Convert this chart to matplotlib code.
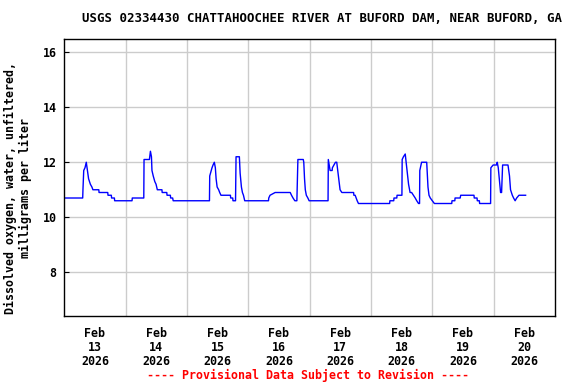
import matplotlib
matplotlib.use('Agg')
import matplotlib.pyplot as plt
from matplotlib.ticker import FixedLocator, NullFormatter

# hours since Feb 13 2026 00:00, dissolved oxygen (mg/L)
hours = [0.0, 7.2, 7.3, 7.6, 8.1, 8.6, 8.9, 9.5, 10.2, 10.8, 11.2, 13.5, 13.6, 17.0, 17.1,
         18.4, 18.5, 19.6, 19.7, 26.5, 26.6, 31.1, 31.2, 33.3, 33.7, 33.9, 34.1, 34.3, 34.8,
         35.4, 35.9, 36.4, 38.2, 38.3, 40.1, 40.2, 41.5, 41.6, 42.4, 42.6, 56.8, 56.9, 57.8,
         58.2, 58.7, 59.1, 59.4, 59.8, 60.4, 60.8, 61.3, 65.0, 65.1, 65.9, 66.0, 67.0, 67.2,
         68.5, 68.6, 68.8, 69.3, 69.7, 70.1, 70.6, 79.9, 80.0, 80.5, 82.5, 88.4, 88.9, 89.5,
         90.2, 91.0, 91.4, 93.5, 93.7, 94.0, 94.3, 94.7, 95.3, 95.8, 103.2, 103.3, 104.0,
         104.8, 104.9, 106.1, 106.6, 107.0, 107.5, 107.9, 108.6, 113.2, 113.3, 113.8, 114.2,
         114.6, 115.1, 127.3, 127.4, 128.9, 129.0, 130.1, 130.2, 132.1, 132.2, 132.7, 133.4,
         134.0, 134.7, 135.3, 135.9, 136.6, 137.3, 137.9, 138.6, 139.0, 139.1, 139.8, 141.8,
         142.1, 142.3, 142.7, 143.2, 144.0, 144.8, 151.6, 151.7, 152.8, 152.9, 154.9, 155.1,
         160.3, 160.4, 161.5, 161.6, 162.4, 162.5, 166.8, 166.9, 167.8, 169.1, 169.4, 169.8,
         170.3, 170.7, 171.1, 171.5, 173.6, 174.2, 174.6, 175.3, 175.8, 176.4, 177.0, 177.9,
         180.5]
oxygen = [10.7, 10.7, 11.0, 11.7, 11.8, 12.0, 11.8, 11.4, 11.2, 11.1, 11.0, 11.0, 10.9, 10.9, 10.8,
          10.8, 10.7, 10.7, 10.6, 10.6, 10.7, 10.7, 12.1, 12.1, 12.4, 12.3, 12.2, 11.7, 11.5,
          11.3, 11.2, 11.0, 11.0, 10.9, 10.9, 10.8, 10.8, 10.7, 10.7, 10.6, 10.6, 11.5, 11.8,
          11.9, 12.0, 11.8, 11.4, 11.1, 11.0, 10.9, 10.8, 10.8, 10.7, 10.7, 10.6, 10.6, 12.2,
          12.2, 12.0, 11.6, 11.1, 10.9, 10.8, 10.6, 10.6, 10.7, 10.8, 10.9, 10.9, 10.8, 10.7,
          10.6, 10.6, 12.1, 12.1, 12.0, 11.4, 11.0, 10.8, 10.7, 10.6, 10.6, 12.1, 11.7,
          11.7, 11.8, 12.0, 12.0, 11.7, 11.3, 11.0, 10.9, 10.9, 10.8, 10.8, 10.7,
          10.6, 10.5, 10.5, 10.6, 10.6, 10.7, 10.7, 10.8, 10.8, 12.1, 12.2, 12.3,
          11.8, 11.2, 10.9, 10.9, 10.8, 10.7, 10.6, 10.5, 10.5, 11.7, 12.0, 12.0,
          11.5, 11.1, 10.8, 10.7, 10.6, 10.5, 10.5, 10.6, 10.6, 10.7, 10.7, 10.8,
          10.8, 10.7, 10.7, 10.6, 10.6, 10.5, 10.5, 11.8, 11.9, 11.9, 12.0, 11.8,
          11.3, 10.9, 10.9, 11.9, 11.9, 11.5, 11.0, 10.8, 10.7, 10.6, 10.7, 10.8,
          10.8]

day_labels = ['Feb\n13\n2026', 'Feb\n14\n2026', 'Feb\n15\n2026', 'Feb\n16\n2026',
              'Feb\n17\n2026', 'Feb\n18\n2026', 'Feb\n19\n2026', 'Feb\n20\n2026']
y_ticks = [8, 10, 12, 14, 16]

title = 'USGS 02334430 CHATTAHOOCHEE RIVER AT BUFORD DAM, NEAR BUFORD, GA'
ylab = 'Dissolved oxygen, water, unfiltered,\nmilligrams per liter'
footer = '---- Provisional Data Subject to Revision ----'

plt.rcParams['font.family'] = 'DejaVu Sans Mono'
plt.rcParams['font.weight'] = 'bold'

fig = plt.figure(figsize=(5.76, 3.84), dpi=100)
ax = fig.add_axes([64.3/576, 1-316/384, (555-64.3)/576, (316-39.3)/384])

ax.plot(hours, oxygen, color='#0000ff', lw=1.0)

ax.set_xlim(0, 192)
ax.set_ylim(6.41, 16.47)

ax.xaxis.set_major_locator(FixedLocator([24*i for i in range(1, 8)]))
ax.xaxis.set_major_formatter(NullFormatter())
ax.xaxis.set_minor_locator(FixedLocator([12 + 24*i for i in range(8)]))
ax.set_xticklabels(day_labels, minor=True)
ax.tick_params(axis='x', which='both', length=0)
ax.tick_params(axis='x', which='minor', pad=8, labelsize=8.4)
for t in ax.get_xticklabels(minor=True):
    t.set_linespacing(1.1)

ax.set_yticks(y_ticks)
ax.set_yticklabels([str(v) for v in y_ticks])
ax.tick_params(axis='y', direction='in', length=3.6, width=0.8, pad=5.5, labelsize=8.4)

ax.grid(True, which='major', color='#cccccc', lw=1.0)
ax.set_axisbelow(True)
for s in ax.spines.values():
    s.set_linewidth(1.0)
    s.set_color('black')

fig.text(322/576, 1-19/384, title, ha='center', va='center', fontsize=8.9)
fig.text(18/576, 1-188/384, ylab, rotation=90, ha='center', va='center',
         multialignment='center', fontsize=8.4, linespacing=1.15)
fig.text(308/576, 1-375/384, footer, ha='center', va='center', fontsize=8.4, color='#ff0000')

fig.savefig('out.png', dpi=100)
